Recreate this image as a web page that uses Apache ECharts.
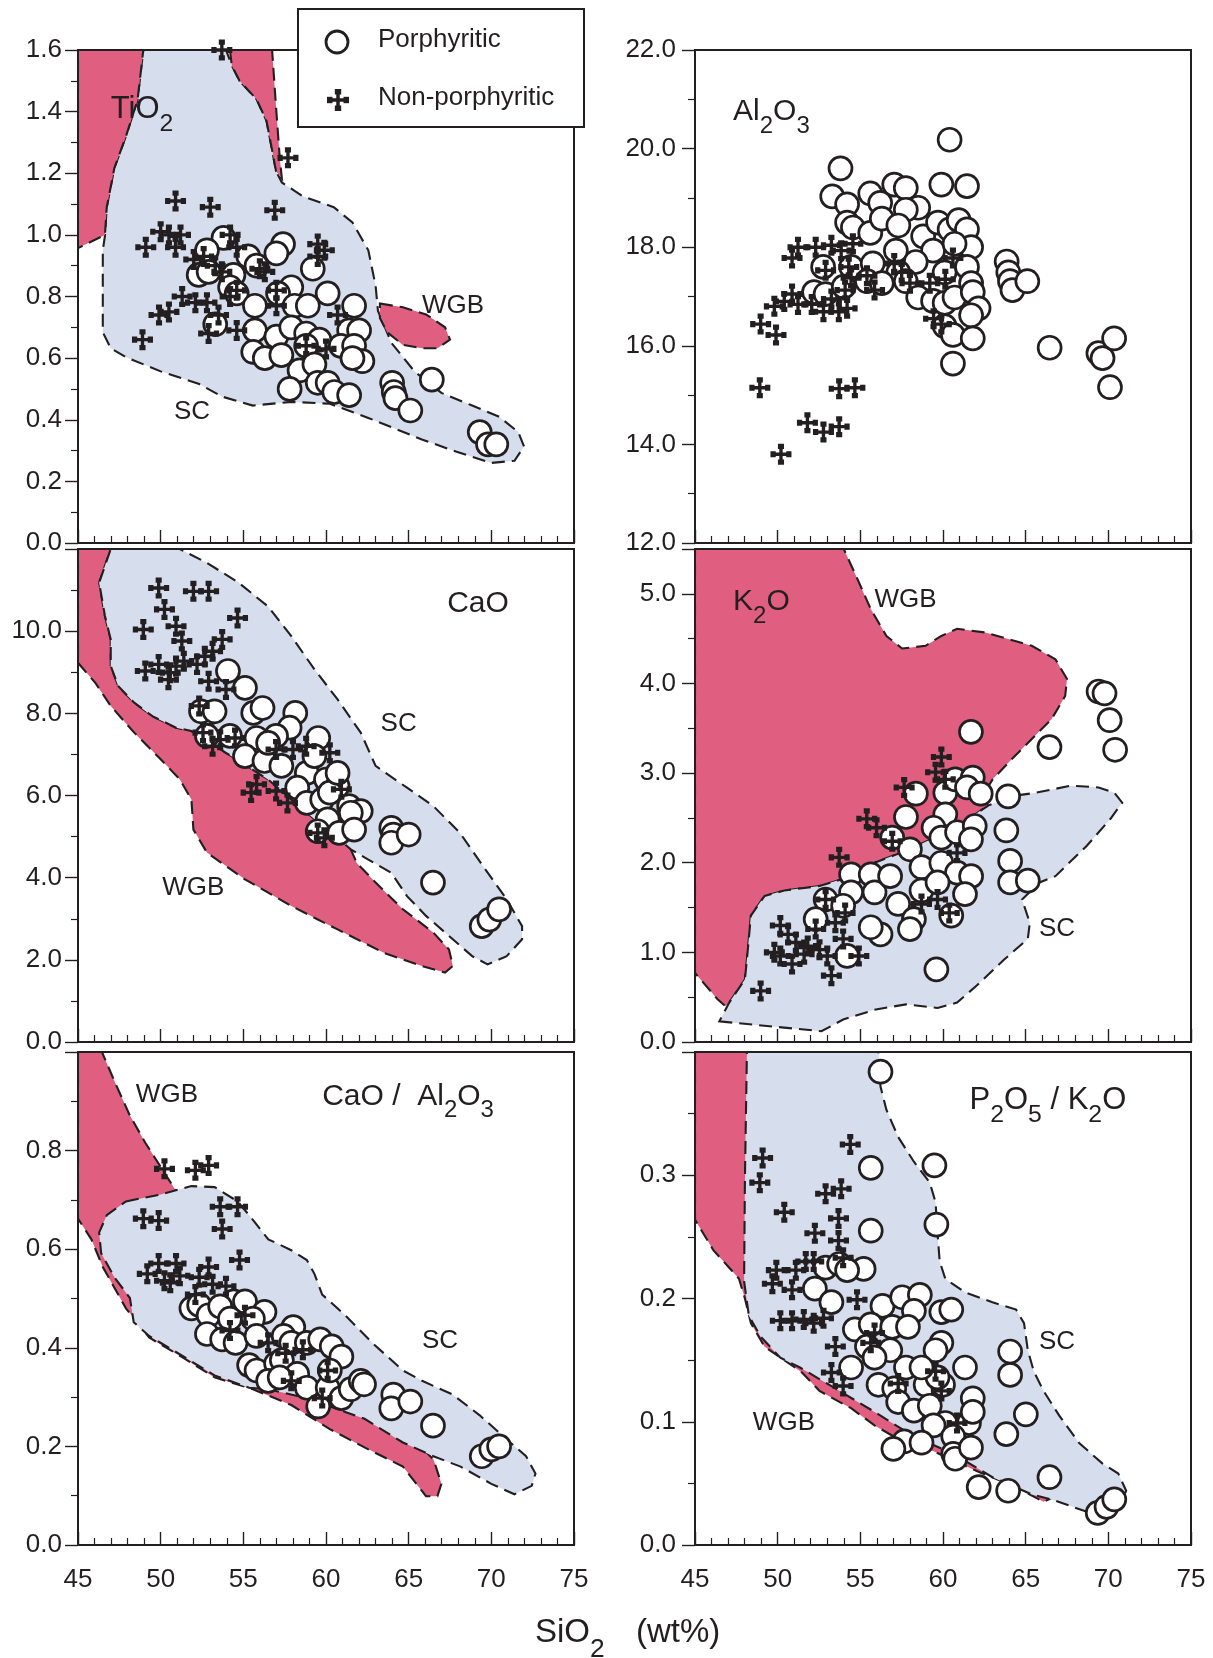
<!DOCTYPE html>
<html>
<head>
<meta charset="utf-8">
<script src="https://cdn.jsdelivr.net/npm/echarts@6.0.0/dist/echarts.min.js"></script>
<style>html,body{margin:0;padding:0;background:#fff;}#c{width:1213px;height:1658px;}</style>
</head>
<body>
<div id="c"></div>
<script>
// ---------------- DATA ----------------
const xTicks = [45, 50, 55, 60, 65, 70, 75];

// TiO2
const tiPor = [[57.4,0.97],[57.0,0.94],[53.8,0.99],[52.8,0.95],[52.3,0.87],[52.9,0.88],[54.4,0.87],[55.3,0.93],[55.8,0.90],[54.2,0.83],[54.6,0.81],[53.3,0.71],[55.7,0.77],[57.9,0.83],[57.1,0.81],[58.1,0.77],[58.9,0.77],[59.2,0.89],[60.1,0.81],[61.7,0.77],[55.7,0.69],[57.0,0.67],[57.9,0.70],[58.8,0.68],[59.6,0.66],[58.8,0.64],[61.4,0.69],[62.0,0.69],[55.6,0.62],[56.3,0.60],[57.3,0.61],[58.4,0.56],[59.3,0.58],[60.9,0.64],[61.7,0.64],[62.2,0.59],[61.6,0.60],[57.8,0.50],[59.5,0.52],[60.1,0.52],[60.5,0.49],[61.4,0.48],[64.0,0.52],[64.1,0.49],[64.2,0.47],[65.1,0.43],[66.4,0.53],[69.3,0.36],[69.8,0.32],[70.3,0.32]];
const tiNon = [[53.7,1.60],[57.7,1.25],[50.9,1.11],[53.0,1.09],[56.9,1.08],[49.1,0.96],[50.0,1.01],[50.5,1.00],[51.2,1.00],[50.9,0.96],[59.5,0.97],[59.9,0.95],[59.5,0.93],[52.0,0.92],[52.6,0.93],[54.2,1.00],[54.6,0.96],[53.3,0.90],[53.7,0.88],[56.3,0.88],[56.0,0.89],[57.0,0.82],[57.0,0.77],[51.3,0.80],[52.1,0.78],[52.8,0.78],[50.5,0.75],[49.9,0.74],[53.5,0.74],[52.9,0.68],[54.6,0.69],[48.9,0.66],[54.6,0.82],[60.7,0.74],[60.0,0.63],[58.8,0.64],[54.2,0.80]];
const tiSC = [[48.95,1.6],[53.95,1.6],[54.3,1.55],[54.77,1.5],[55.8,1.44],[56.4,1.37],[56.74,1.275],[56.98,1.206],[57.33,1.17],[58.6,1.125],[60.47,1.09],[61.6,1.04],[62.56,0.95],[63.0,0.835],[63.14,0.754],[63.95,0.65],[65.35,0.557],[66.98,0.487],[68.84,0.446],[70.47,0.41],[71.63,0.36],[71.98,0.313],[71.4,0.267],[70.0,0.26],[67.9,0.296],[65.8,0.336],[62.56,0.406],[60.23,0.452],[57.9,0.458],[55.58,0.446],[53.72,0.475],[52.33,0.516],[50.0,0.557],[47.9,0.603],[46.98,0.632],[46.5,0.684],[46.5,0.95],[46.63,0.997],[46.74,1.09],[47.2,1.217],[47.9,1.32],[48.6,1.437]];
const tiWGB1 = [[45.0,1.6],[48.95,1.6],[48.6,1.437],[47.9,1.32],[47.2,1.217],[46.74,1.09],[46.63,1.0],[45.0,0.957]];
const tiWGB2 = [[54.19,1.6],[56.74,1.6],[56.98,1.414],[57.2,1.252],[57.33,1.183],[56.98,1.206],[56.74,1.275],[56.4,1.37],[55.8,1.44],[54.77,1.5],[54.3,1.55]];
const tiWGB3 = [[63.26,0.777],[64.65,0.765],[66.05,0.742],[67.2,0.70],[67.5,0.66],[66.74,0.632],[65.8,0.632],[64.65,0.643],[63.7,0.684],[63.26,0.73]];

// Al2O3
const alPor = [[60.4,20.18],[53.8,19.6],[53.3,19.03],[54.2,18.87],[55.6,19.09],[57.05,19.27],[57.75,19.2],[56.2,18.9],[58.5,18.8],[57.75,18.76],[59.9,19.27],[61.45,19.24],[54.2,18.5],[54.55,18.4],[55.6,18.29],[56.3,18.58],[57.3,18.44],[58.8,18.22],[59.7,18.5],[60.4,18.36],[60.95,18.55],[61.45,18.36],[61.7,18.0],[59.4,17.93],[60.7,18.07],[52.75,17.6],[54.45,17.6],[55.75,17.67],[57.15,17.93],[58.35,17.7],[57.3,17.49],[60.1,17.49],[61.45,17.6],[52.2,17.09],[52.9,17.05],[54.0,17.2],[55.4,17.31],[56.3,17.27],[57.75,17.31],[58.5,16.98],[59.4,16.91],[60.1,16.87],[60.7,16.98],[61.7,17.27],[61.8,17.09],[62.15,16.76],[61.7,16.62],[60.1,16.4],[60.6,16.22],[61.8,16.15],[60.6,15.64],[63.85,17.71],[63.95,17.49],[64.05,17.31],[64.2,17.13],[65.1,17.31],[66.45,15.96],[69.4,15.85],[69.65,15.75],[70.35,16.15],[70.1,15.16]];
const alNon = [[50.87,17.78],[51.23,18.0],[52.3,18.0],[53.25,18.04],[53.84,17.93],[54.55,18.07],[52.9,17.53],[54.3,17.6],[49.8,16.8],[50.4,16.9],[50.87,17.05],[51.23,16.84],[52.06,16.84],[52.77,16.69],[53.7,16.69],[54.2,16.76],[53.25,16.95],[54.08,17.13],[54.44,17.38],[55.4,17.42],[55.86,17.13],[57.05,17.67],[57.5,17.49],[58.0,17.27],[59.2,17.27],[60.14,17.35],[60.6,17.78],[59.43,16.55],[59.9,16.44],[48.97,16.44],[49.9,16.22],[48.92,15.15],[53.72,15.13],[54.67,15.15],[51.8,14.44],[52.77,14.25],[53.72,14.36],[50.2,13.8]];

// CaO
const caPor = [[54.07,9.03],[55.1,8.62],[55.6,8.01],[56.16,8.13],[58.14,8.01],[57.8,7.65],[52.9,8.01],[52.44,8.05],[53.26,8.05],[52.8,7.45],[54.19,7.45],[55.8,7.4],[56.98,7.45],[59.53,7.4],[55.1,6.96],[56.28,6.84],[57.3,6.72],[58.84,6.55],[60.0,6.39],[60.7,6.23],[58.26,6.19],[58.84,5.82],[59.77,5.9],[60.23,6.07],[61.4,5.74],[62.1,5.62],[61.5,5.58],[60.1,5.42],[59.5,5.13],[60.8,5.09],[61.7,5.17],[63.95,5.21],[64.07,5.05],[63.95,4.85],[65.0,5.05],[66.47,3.88],[69.42,2.82],[69.88,2.98],[70.47,3.23],[56.5,7.28],[59.3,6.96],[60.7,6.55]];
const caNon = [[49.88,11.05],[51.98,10.97],[52.9,10.97],[50.23,10.53],[48.95,10.04],[50.93,10.12],[51.28,9.76],[54.65,10.32],[53.72,9.8],[53.14,9.51],[52.67,9.39],[52.2,9.19],[51.4,9.27],[50.93,9.15],[50.58,8.99],[49.88,9.19],[49.07,9.03],[50.47,8.82],[52.9,8.78],[53.95,8.58],[52.33,8.18],[52.56,7.53],[53.6,7.36],[54.5,7.4],[53.14,7.2],[56.98,7.12],[58.0,7.12],[60.23,7.04],[58.8,7.2],[55.8,6.27],[55.47,6.07],[56.98,6.11],[57.67,5.82],[60.93,6.15],[59.5,5.09],[59.9,4.97]];
const caSC = [[46.98,12.0],[51.16,12.0],[52.8,11.66],[54.65,11.2],[56.5,10.6],[57.9,9.88],[59.3,9.07],[60.7,8.34],[62.1,7.53],[63.0,6.72],[64.9,6.19],[66.5,5.74],[68.1,5.09],[69.5,4.28],[70.93,3.47],[71.86,2.82],[71.86,2.5],[70.93,2.09],[69.77,1.89],[68.84,2.09],[67.67,2.5],[66.05,3.07],[64.9,3.55],[63.95,4.12],[62.56,4.44],[61.5,4.69],[58.84,5.58],[56.5,6.39],[53.95,7.04],[51.86,7.57],[50.93,7.65],[49.5,7.93],[48.4,8.26],[47.44,8.66],[46.98,9.15],[46.98,9.8],[46.63,10.37],[46.28,11.18]];
const caWGB = [[45.0,12.0],[46.98,12.0],[46.28,11.18],[46.63,10.37],[46.98,9.8],[46.98,9.15],[47.44,8.66],[48.4,8.26],[49.5,7.93],[50.93,7.65],[51.86,7.57],[53.95,7.04],[56.5,6.39],[58.84,5.58],[61.5,4.69],[61.86,4.36],[63.0,3.88],[64.65,3.23],[66.5,2.66],[67.44,2.25],[67.67,1.85],[67.2,1.69],[65.8,1.85],[63.5,2.17],[60.7,2.74],[57.9,3.31],[55.1,3.96],[52.8,4.61],[51.98,5.17],[51.86,5.9],[51.16,6.39],[50.0,6.88],[48.4,7.53],[46.98,8.18],[46.05,8.74],[45.0,9.23]];

// K2O
const kPor = [[61.69,3.46],[66.44,3.29],[69.41,3.91],[69.77,3.89],[70.08,3.59],[70.41,3.26],[58.36,2.77],[60.14,2.78],[60.74,2.93],[61.8,2.95],[61.45,2.84],[62.28,2.77],[63.94,2.74],[57.76,2.51],[60.14,2.54],[59.43,2.39],[59.9,2.28],[60.85,2.34],[61.92,2.41],[61.69,2.26],[63.83,2.36],[56.93,2.28],[58.0,2.15],[58.7,1.95],[59.9,2.0],[60.85,1.89],[61.7,1.85],[64.06,2.02],[64.06,1.78],[65.13,1.8],[54.44,1.87],[55.63,1.87],[55.86,1.67],[54.44,1.67],[52.9,1.59],[53.96,1.52],[57.29,1.54],[58.7,1.69],[61.33,1.65],[60.5,1.41],[58.24,1.37],[58.0,1.26],[56.22,1.2],[55.63,1.28],[52.3,1.37],[54.2,0.96],[59.6,0.81],[56.8,1.85],[59.67,1.78]];
const kNon = [[59.9,3.18],[59.55,3.01],[60.14,2.93],[57.65,2.84],[55.39,2.49],[55.98,2.39],[56.93,2.24],[53.72,2.06],[60.85,2.11],[58.7,1.54],[60.38,1.44],[59.67,1.59],[52.9,1.59],[54.08,1.44],[50.16,1.3],[50.63,1.2],[51.1,1.11],[50.16,0.96],[49.8,1.0],[50.87,0.87],[51.82,1.07],[52.3,1.26],[53.0,0.96],[53.25,0.74],[53.96,1.15],[54.91,0.96],[53.49,1.33],[48.97,0.57],[51.6,0.98],[52.53,1.03]];
const kSC = [[46.47,0.23],[52.65,0.12],[53.96,0.25],[55.86,0.36],[57.76,0.42],[59.67,0.38],[60.85,0.44],[62.04,0.63],[63.7,0.92],[65.13,1.15],[65.25,1.33],[64.78,1.59],[65.84,1.78],[66.8,1.85],[68.7,2.19],[70.13,2.49],[70.84,2.67],[70.37,2.78],[69.41,2.84],[67.75,2.86],[65.6,2.78],[64.4,2.75],[62.76,2.64],[60.62,2.38],[58.0,2.15],[55.86,2.0],[53.96,1.82],[52.53,1.74],[50.4,1.69],[49.21,1.63],[48.38,1.41],[48.14,0.92],[48.02,0.7],[47.07,0.44]];
const kWGB = [[45.0,5.5],[54.0,5.5],[54.91,5.13],[55.63,4.83],[56.58,4.53],[57.53,4.39],[58.95,4.42],[59.9,4.53],[60.85,4.61],[62.52,4.57],[65.37,4.42],[66.8,4.27],[67.5,4.05],[67.39,3.86],[66.56,3.6],[65.37,3.38],[64.18,3.16],[63.0,2.93],[62.28,2.71],[62.76,2.64],[60.62,2.38],[58.0,2.15],[55.86,2.0],[53.96,1.82],[52.53,1.74],[50.4,1.69],[49.21,1.63],[48.38,1.41],[48.14,0.92],[48.02,0.7],[47.07,0.44],[46.83,0.40],[46.35,0.48],[45.0,0.77]];

// CaO / Al2O3
const caalPor = [[54.42,0.494],[55.1,0.494],[56.28,0.473],[51.86,0.48],[52.33,0.487],[52.9,0.466],[53.6,0.484],[54.19,0.459],[55.58,0.459],[52.8,0.428],[53.72,0.417],[54.53,0.41],[55.8,0.424],[58.02,0.442],[57.44,0.424],[57.9,0.41],[58.84,0.41],[59.65,0.417],[60.35,0.403],[60.93,0.382],[55.35,0.365],[55.8,0.354],[56.98,0.368],[57.33,0.375],[58.26,0.347],[58.84,0.319],[59.53,0.281],[60.1,0.319],[60.23,0.354],[60.93,0.298],[61.5,0.316],[62.1,0.333],[62.3,0.326],[64.07,0.305],[63.95,0.277],[65.1,0.291],[66.47,0.242],[69.42,0.18],[70.0,0.194],[70.47,0.2],[56.5,0.333],[57.2,0.34]];
const caalNon = [[50.23,0.763],[52.1,0.76],[52.9,0.77],[48.95,0.662],[49.88,0.658],[53.6,0.686],[54.65,0.686],[53.72,0.641],[54.77,0.578],[49.19,0.55],[49.88,0.571],[50.93,0.571],[50.58,0.532],[50.23,0.536],[51.16,0.546],[52.33,0.543],[52.9,0.564],[53.14,0.529],[53.95,0.525],[52.1,0.508],[54.19,0.435],[55.1,0.466],[56.5,0.41],[57.9,0.333],[59.77,0.298],[60.1,0.354],[58.6,0.396],[57.56,0.389]];
const caalSC = [[47.9,0.697],[50.0,0.711],[51.86,0.728],[53.26,0.726],[54.65,0.697],[55.35,0.669],[56.51,0.62],[57.9,0.598],[58.84,0.578],[59.3,0.55],[59.77,0.508],[61.16,0.466],[62.8,0.41],[64.65,0.354],[65.81,0.333],[67.67,0.305],[69.3,0.263],[70.47,0.228],[72.1,0.18],[72.67,0.145],[72.44,0.12],[71.4,0.103],[70.0,0.124],[68.14,0.159],[66.5,0.18],[64.65,0.208],[62.33,0.256],[61.16,0.27],[58.84,0.298],[56.5,0.316],[55.35,0.319],[53.26,0.344],[51.4,0.382],[49.3,0.424],[48.37,0.452],[48.14,0.501],[47.2,0.543],[46.4,0.592],[46.28,0.634],[46.74,0.669]];
const caalWGB = [[45.0,1.0],[46.45,1.0],[47.2,0.941],[48.14,0.871],[49.07,0.816],[50.0,0.767],[50.93,0.718],[54.19,0.592],[58.84,0.431],[63.5,0.291],[65.81,0.197],[66.51,0.173],[66.98,0.124],[66.74,0.099],[66.05,0.099],[64.65,0.159],[62.56,0.194],[60.23,0.235],[57.9,0.284],[55.58,0.316],[53.26,0.34],[51.4,0.379],[49.3,0.421],[47.9,0.48],[47.2,0.522],[46.5,0.564],[45.81,0.62],[45.0,0.662]];

// P2O5 / K2O
const pkPor = [[56.22,0.384],[55.63,0.306],[59.48,0.308],[55.63,0.255],[59.6,0.26],[55.2,0.224],[52.9,0.225],[53.72,0.228],[54.2,0.223],[52.25,0.208],[53.25,0.197],[56.34,0.194],[57.53,0.201],[58.6,0.203],[58.24,0.19],[59.9,0.189],[60.5,0.191],[54.67,0.175],[55.63,0.179],[56.93,0.177],[57.88,0.177],[59.9,0.164],[55.4,0.161],[56.81,0.158],[59.55,0.158],[54.44,0.144],[57.76,0.144],[61.33,0.144],[56.1,0.13],[57.05,0.127],[58.95,0.13],[60.0,0.13],[61.8,0.119],[57.29,0.116],[58.24,0.109],[59.2,0.113],[60.14,0.099],[61.57,0.099],[61.8,0.108],[59.43,0.097],[60.62,0.088],[57.65,0.084],[58.7,0.083],[57.0,0.078],[60.62,0.074],[60.74,0.07],[61.69,0.079],[64.06,0.157],[64.06,0.138],[65.01,0.106],[63.83,0.09],[66.44,0.055],[62.16,0.047],[63.94,0.044],[69.36,0.026],[69.89,0.031],[70.36,0.037],[59.67,0.136],[58.7,0.144],[55.86,0.152]];
const pkNon = [[54.39,0.325],[49.09,0.314],[48.92,0.294],[50.4,0.27],[52.9,0.285],[53.84,0.289],[53.68,0.265],[52.25,0.253],[53.68,0.247],[53.96,0.233],[52.18,0.23],[49.92,0.223],[51.1,0.223],[51.7,0.23],[49.68,0.212],[50.87,0.207],[54.8,0.199],[50.16,0.182],[50.87,0.182],[51.58,0.183],[52.18,0.18],[52.77,0.184],[53.49,0.161],[53.25,0.14],[53.96,0.129],[55.86,0.172],[55.63,0.164],[57.29,0.131],[59.55,0.141],[59.9,0.125],[60.85,0.099]];
const pkSC = [[48.14,0.4],[56.1,0.4],[56.22,0.372],[56.58,0.353],[57.29,0.331],[58.24,0.311],[59.2,0.294],[59.55,0.278],[59.67,0.253],[59.8,0.23],[60.14,0.216],[61.33,0.205],[62.99,0.197],[64.42,0.191],[64.9,0.18],[65.13,0.158],[65.49,0.141],[66.08,0.125],[67.03,0.105],[68.22,0.083],[69.65,0.066],[70.6,0.058],[71.08,0.044],[70.6,0.03],[68.7,0.027],[66.56,0.037],[65.37,0.041],[62.99,0.055],[60.62,0.074],[58.24,0.088],[55.86,0.108],[53.49,0.127],[51.35,0.144],[50.16,0.152],[48.97,0.169],[48.26,0.186],[47.97,0.214],[48.02,0.297]];
const pkWGB = [[45.0,0.4],[52.2,0.4],[52.53,0.386],[50.63,0.297],[51.1,0.186],[55.86,0.116],[62.99,0.06],[66.56,0.038],[66.08,0.035],[64.42,0.047],[62.04,0.06],[59.43,0.076],[57.29,0.086],[55.86,0.097],[54.44,0.111],[52.53,0.125],[51.47,0.14],[50.4,0.15],[49.2,0.161],[48.38,0.18],[48.02,0.2],[47.66,0.216],[47.07,0.225],[46.12,0.239],[45.0,0.264]];

// ---------------- STYLE / LAYOUT ----------------
const C = '#231f20';
const PINK = '#e05e80';
const BLUE = '#d6deee';
const FONT = '"Liberation Sans", Arial, Helvetica, sans-serif';
// cross glyph built from rectangles in a 20x20 box: [x, y, w, h]
const crossRects = [[8.4,2,3.2,16],[2,8.4,16,3.2],[7.1,0,5.8,5],[7.1,15,5.8,5],[0,7.1,5,5.8],[15,7.1,5,5.8]];
const CROSS = 'path://' + crossRects.map(r => `M${r[0]},${r[1]}h${r[2]}v${r[3]}h${-r[2]}Z`).join(' ');

const panels = [
  {left:78, top:50, ymin:0, ymax:1.6, step:0.2, lmax:1.6, por:tiPor, non:tiNon, regions:[[tiSC,BLUE],[tiWGB1,PINK],[tiWGB2,PINK],[tiWGB3,PINK]]},
  {left:695, top:50, ymin:12, ymax:22, step:2, lmax:22, por:alPor, non:alNon, regions:[]},
  {left:78, top:549, ymin:0, ymax:12, step:2, lmax:10, por:caPor, non:caNon, regions:[[caWGB,PINK],[caSC,BLUE]]},
  {left:695, top:549, ymin:0, ymax:5.5, step:1, lmax:5, por:kPor, non:kNon, regions:[[kWGB,PINK],[kSC,BLUE]]},
  {left:78, top:1052, ymin:0, ymax:1.0, step:0.2, lmax:0.8, por:caalPor, non:caalNon, regions:[[caalWGB,PINK],[caalSC,BLUE]]},
  {left:695, top:1052, ymin:0, ymax:0.4, step:0.1, lmax:0.3, por:pkPor, non:pkNon, regions:[[pkWGB,PINK],[pkSC,BLUE]]}
];

const grid = [], xAxis = [], yAxis = [], series = [];
panels.forEach((p, i) => {
  grid.push({left:p.left, top:p.top, width:496, height:493, show:true, borderColor:C, borderWidth:2, backgroundColor:'transparent', z:5});
  xAxis.push({
    type:'value', gridIndex:i, min:xTicks[0], max:xTicks[xTicks.length-1], interval:5, z:6,
    axisLine:{show:true, onZero:false, lineStyle:{color:C, width:2}},
    axisTick:{show:true, inside:true, length:13, lineStyle:{color:C, width:1.4}},
    minorTick:{show:true, splitNumber:5, length:7, lineStyle:{color:C, width:1.2}},
    axisLabel:{show: i >= 4, fontSize:26, color:C, margin:22, fontFamily:FONT},
    splitLine:{show:false}, minorSplitLine:{show:false}
  });
  yAxis.push({
    type:'value', gridIndex:i, min:p.ymin, max:p.ymax, interval:p.step, z:6,
    axisLine:{show:true, onZero:false, lineStyle:{color:C, width:2}},
    axisTick:{show:true, inside:false, length:13, lineStyle:{color:C, width:1.4}},
    minorTick:{show:true, splitNumber:2, length:7, lineStyle:{color:C, width:1.2}},
    axisLabel:{fontSize:26, color:C, margin: (i % 2 === 0) ? 16 : 19, fontFamily:FONT,
      formatter: v => (v > p.lmax + 1e-9 ? '' : v.toFixed(1))},
    splitLine:{show:false}, minorSplitLine:{show:false}
  });
  p.regions.forEach(([poly, fill]) => {
    series.push({
      type:'custom', xAxisIndex:i, yAxisIndex:i, data:poly, clip:true, silent:true, z:1,
      renderItem: (params, api) => {
        if (params.dataIndex !== 0) return null;
        return {type:'polygon', shape:{points: poly.map(pt => api.coord(pt))},
          style:{fill:fill, stroke:C, lineWidth:2.1, lineDash:[13,7]}};
      }
    });
  });
  series.push({type:'scatter', name:'Porphyritic', xAxisIndex:i, yAxisIndex:i, data:p.por, symbol:'circle', symbolSize:23,
    itemStyle:{color:'#fff', borderColor:C, borderWidth:2.7, opacity:1}, z:3, silent:true, emphasis:{disabled:true}});
  series.push({type:'scatter', name:'Non-porphyritic', xAxisIndex:i, yAxisIndex:i, data:p.non, symbol:CROSS, symbolSize:21,
    itemStyle:{color:C, opacity:1}, z:4, silent:true, emphasis:{disabled:true}});
});

const chart = echarts.init(document.getElementById('c'), null, {renderer:'canvas', width:1213, height:1658});
chart.setOption({animation:false, backgroundColor:'#fff', grid, xAxis, yAxis, series});

// ---------------- TEXT LABELS ----------------
const labels = [
  {g:0, x:46.98, y:1.406, fs:31, parts:[['TiO'],['2',1]]},
  {g:0, x:65.8, y:0.771, fs:26, parts:[['WGB']]},
  {g:0, x:50.8, y:0.427, fs:26, parts:[['SC']]},
  {g:1, x:47.3, y:20.75, fs:30, parts:[['Al'],['2',1],['O'],['3',1]]},
  {g:2, x:67.33, y:10.67, fs:30, parts:[['CaO']]},
  {g:2, x:63.3, y:7.75, fs:26, parts:[['SC']]},
  {g:2, x:50.1, y:3.75, fs:26, parts:[['WGB']]},
  {g:3, x:47.3, y:4.91, fs:30, parts:[['K'],['2',1],['O']]},
  {g:3, x:55.86, y:4.93, fs:26, parts:[['WGB']]},
  {g:3, x:65.8, y:1.26, fs:26, parts:[['SC']]},
  {g:4, x:48.5, y:0.913, fs:26, parts:[['WGB']]},
  {g:4, x:59.77, y:0.91, fs:30, parts:[['CaO /  Al'],['2',1],['O'],['3',1]]},
  {g:4, x:65.8, y:0.415, fs:26, parts:[['SC']]},
  {g:5, x:61.6, y:0.361, fs:31, parts:[['P'],['2',1],['O'],['5',1],[' / K'],['2',1],['O']]},
  {g:5, x:65.8, y:0.165, fs:26, parts:[['SC']]},
  {g:5, x:48.5, y:0.099, fs:26, parts:[['WGB']]}
];
const mctx = document.createElement('canvas').getContext('2d');
function measure(t, fs) { mctx.font = fs + 'px ' + FONT; return mctx.measureText(t).width; }
function textRun(x0, yc, fs, parts, subOff) {
  const els = []; let x = x0;
  parts.forEach(([t, sub]) => {
    const f = sub ? fs * 0.8 : fs;
    els.push({type:'text', x:x, y: sub ? yc + subOff * fs : yc, z:50,
      style:{text:t, fontSize:f, fontFamily:FONT, fill:C, align:'left', verticalAlign:'middle'}});
    x += measure(t, f);
  });
  return els;
}
let graphic = [];
labels.forEach(L => {
  const pt = chart.convertToPixel({gridIndex:L.g}, [L.x, L.y]);
  graphic = graphic.concat(textRun(pt[0], pt[1], L.fs, L.parts, 0.48));
});
// axis title
graphic = graphic.concat(textRun(535, 1633, 33, [['SiO'],['2',1]], 0.52));
graphic.push({type:'text', x:636, y:1633, z:50, style:{text:'(wt%)', fontSize:33, fontFamily:FONT, fill:C, align:'left', verticalAlign:'middle'}});
// legend box
graphic.push({type:'rect', z:60, shape:{x:298, y:9, width:286, height:118}, style:{fill:'#fff', stroke:C, lineWidth:2}});
graphic.push({type:'circle', z:61, shape:{cx:337, cy:42, r:11}, style:{fill:'#fff', stroke:C, lineWidth:2.8}});
const lcS = 22 / 20, lcX = 327, lcY = 89;
crossRects.forEach(r => {
  graphic.push({type:'rect', z:61, shape:{x:lcX + r[0]*lcS, y:lcY + r[1]*lcS, width:r[2]*lcS, height:r[3]*lcS}, style:{fill:C}});
});
graphic.push({type:'text', z:61, x:378, y:40, style:{text:'Porphyritic', fontSize:26, fontFamily:FONT, fill:C, align:'left', verticalAlign:'middle'}});
graphic.push({type:'text', z:61, x:378, y:98, style:{text:'Non-porphyritic', fontSize:26, fontFamily:FONT, fill:C, align:'left', verticalAlign:'middle'}});
chart.setOption({graphic: graphic});
</script>
</body>
</html>
